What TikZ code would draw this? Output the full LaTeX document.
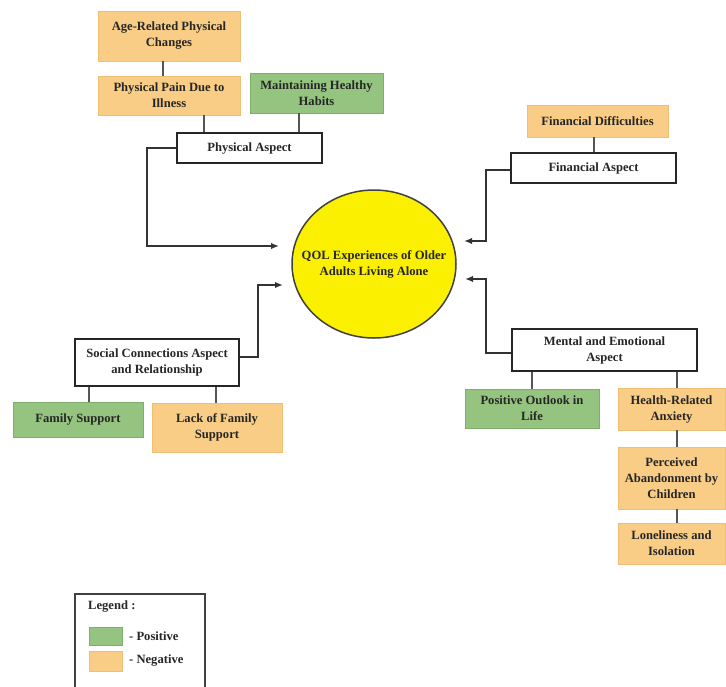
\documentclass[tikz,border=0pt]{standalone}
\usepackage{fontspec}
\setmainfont{Liberation Serif}
\usetikzlibrary{arrows.meta,shapes.geometric}
\definecolor{negfill}{HTML}{F9CD86}
\definecolor{negdraw}{HTML}{EDBE74}
\definecolor{posfill}{HTML}{94C47F}
\definecolor{posdraw}{HTML}{7FAE6A}
\definecolor{qolfill}{HTML}{FAF000}
\definecolor{linegray}{HTML}{555555}
\begin{document}
\begin{tikzpicture}[x=1pt,y=-1pt,
  every node/.style={font=\fontsize{12.6}{16}\selectfont\bfseries, text=black!85, align=center, inner sep=0pt},
  negbox/.style={rectangle, fill=negfill, draw=negdraw, line width=0.9pt},
  posbox/.style={rectangle, fill=posfill, draw=posdraw, line width=0.9pt},
  aspect/.style={rectangle, fill=white, draw=black!85, line width=1.8pt},
  conn/.style={draw=linegray, line width=2pt},
  arr/.style={draw=black!80, line width=2pt, -{Latex[length=8pt,width=6.5pt]}}]
\useasboundingbox (0,0) rectangle (726,686);

% central ellipse
\node[ellipse, fill=qolfill, draw=black!75, line width=1.5pt, minimum width=164, minimum height=148] (qol) at (374,264) {};
\node (qoltext) at (qol.center) {QOL Experiences of Older\\Adults Living Alone};

% physical
\node[negbox, minimum width=142, minimum height=50] (age) at (169,36) {Age-Related Physical\\Changes};
\node[negbox, minimum width=142, minimum height=39] (pain) at (169,95.5) {Physical Pain Due to\\Illness};
\node[posbox, minimum width=133, minimum height=40] (habits) at (316.5,93) {Maintaining Healthy\\Habits};
\node[aspect, minimum width=145, minimum height=30] (phys) at (249.5,148) {Physical Aspect};

% financial
\node[negbox, minimum width=141, minimum height=32] (findiff) at (597.5,121) {Financial Difficulties};
\node[aspect, minimum width=165, minimum height=30] (fin) at (593.5,168) {Financial Aspect};

% mental
\node[aspect, minimum width=185, minimum height=42] (mental) at (604.5,350) {Mental and Emotional\\Aspect};
\node[posbox, minimum width=134, minimum height=39] (outlook) at (532,408.5) {Positive Outlook in\\Life};
\node[negbox, minimum width=107, minimum height=42] (anx) at (671.5,409) {Health-Related\\Anxiety};
\node[negbox, minimum width=107, minimum height=62] (aband) at (671.5,478) {Perceived\\Abandonment by\\Children};
\node[negbox, minimum width=107, minimum height=41] (lonely) at (671.5,543.5) {Loneliness and\\Isolation};

% social
\node[aspect, minimum width=164, minimum height=47] (social) at (157,362.5) {Social Connections Aspect\\and Relationship};
\node[posbox, minimum width=130, minimum height=35] (famsup) at (78,419.5) {Family Support};
\node[negbox, minimum width=130, minimum height=49] (lack) at (217,427.5) {Lack of Family\\Support};

% connectors (children to aspects)
\coordinate (c1) at ([xshift=-6pt]age.south);
\draw[conn] (c1) -- (c1 |- pain.north);
\coordinate (c2) at ([xshift=35pt]pain.south);
\draw[conn] (c2) -- (c2 |- phys.north);
\coordinate (c3) at ([xshift=-17.5pt]habits.south);
\draw[conn] (c3) -- (c3 |- phys.north);
\coordinate (c4) at ([xshift=-3.5pt]findiff.south);
\draw[conn] (c4) -- (c4 |- fin.north);
\coordinate (c5) at (outlook.north);
\draw[conn] (c5) -- (c5 |- mental.south);
\coordinate (c6) at ([xshift=5.5pt]anx.north);
\draw[conn] (c6) -- (c6 |- mental.south);
\coordinate (c7) at ([xshift=5.5pt]anx.south);
\draw[conn] (c7) -- (c7 |- aband.north);
\coordinate (c8) at ([xshift=5.5pt]aband.south);
\draw[conn] (c8) -- (c8 |- lonely.north);
\coordinate (c9) at ([xshift=11pt]famsup.north);
\draw[conn] (c9) -- (c9 |- social.south);
\coordinate (c10) at ([xshift=-1pt]lack.north);
\draw[conn] (c10) -- (c10 |- social.south);

% arrows to the centre
\coordinate (tP) at (279,246);
\coordinate (tS) at (283,285);
\coordinate (tF) at (464,241);
\coordinate (tM) at (465,279);
\draw[arr] (phys.west) -- ++(-29,0) |- (tP);
\draw[arr] ([yshift=6pt]social.east) -- ++(18,0) |- (tS);
\draw[arr] ([yshift=-2pt]fin.west) -- ++(-24,0) |- (tF);
\draw[arr] ([yshift=-3pt]mental.west) -- ++(-25,0) |- (tM);

% legend
\node[rectangle, draw=black!75, line width=1.5pt, minimum width=130, minimum height=98] (legend) at (140,643) {};
\node[anchor=west] (legtitle) at (88,607) {Legend :};
\node[posbox, minimum width=33, minimum height=18] (legpos) at (105.5,636) {};
\node[negbox, minimum width=33, minimum height=20] (legneg) at (105.5,661) {};
\node[anchor=west] (legpostext) at (129,636) {- Positive};
\node[anchor=west] (legnegtext) at (129,661) {- Negative};
\end{tikzpicture}
\end{document}
